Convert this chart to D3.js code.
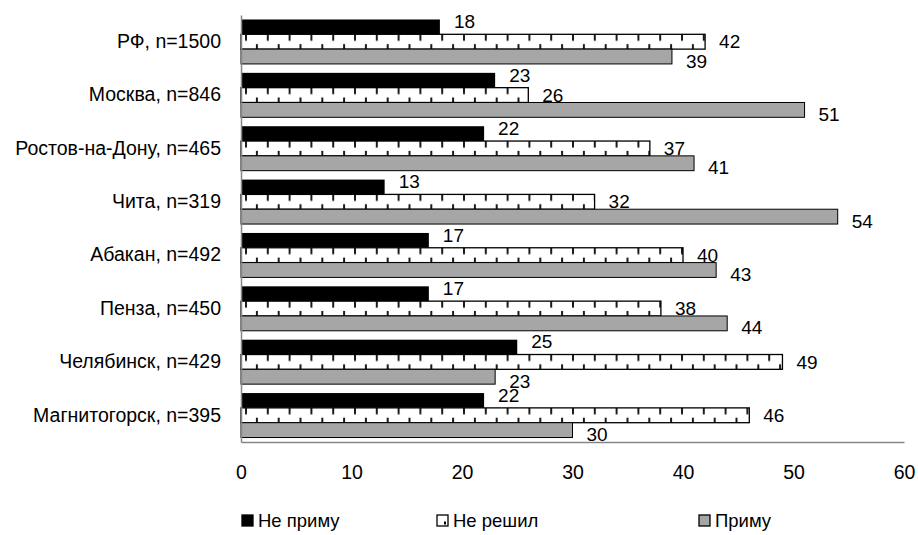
<!DOCTYPE html>
<html>
<head>
<meta charset="utf-8">
<script src="https://cdn.jsdelivr.net/npm/d3@7"></script>
<style>
  body { margin: 0; background: #fff; }
  svg { display: block; font-family: "Liberation Sans", Arial, sans-serif; }
</style>
</head>
<body>
<svg width="918" height="535"></svg>
<script>
// data
const cities = ["РФ, n=1500", "Москва, n=846", "Ростов-на-Дону, n=465", "Чита, n=319",
    "Абакан, n=492", "Пенза, n=450", "Челябинск, n=429", "Магнитогорск, n=395"];
const seriesNames = ["Не приму", "Не решил", "Приму"];
const notAccept = [18, 23, 22, 13, 17, 17, 25, 22];
const undecided = [42, 26, 37, 32, 40, 38, 49, 46];
const accept = [39, 51, 41, 54, 43, 44, 23, 30];
const xTicks = [0, 10, 20, 30, 40, 50, 60];

const series = [notAccept, undecided, accept];

const svg = d3.select('svg');
const catFont = 19.5;
const valFont = 19;
const legFont = 18.5;

var margin = { left: 241, right: 14, top: 15, bottom: 442 };

var xScale = d3.scaleLinear()
    .domain([0, 60])
    .range([margin.left, 904]);

var yScale = d3.scaleBand()
    .domain(cities)
    .range([margin.top, margin.bottom])
    .paddingInner(0.167)
    .paddingOuter(0.084);

var inner = d3.scaleBand()
    .domain(d3.range(3))
    .range([0, yScale.bandwidth()]);

// pattern for "Не решил": ticks hanging from the top, stubs rising from the bottom
var period = 21.8;
var bh = inner.bandwidth();
var defs = svg.append('defs');
var pat = defs.append('pattern')
    .attr('id', 'hatch')
    .attr('patternUnits', 'userSpaceOnUse')
    .attr('x', 245)
    .attr('y', yScale(cities[0]) + inner(1))
    .attr('width', period)
    .attr('height', yScale.step());
pat.append('rect').attr('width', period).attr('height', yScale.step()).attr('fill', '#fff');
pat.append('rect').attr('x', 0).attr('y', 0).attr('width', 2).attr('height', 6.5).attr('fill', '#1a1a1a');
pat.append('rect').attr('x', period / 2).attr('y', bh - 5).attr('width', 2).attr('height', 5).attr('fill', '#1a1a1a');

var fills = ['#000', 'url(#hatch)', '#a6a6a6'];
var strokes = ['none', '#000', '#000'];
var strokeW = [0, 1.3, 1];

// bars
series.forEach(function (vals, s) {
    svg.append('g')
        .selectAll('rect')
        .data(vals)
        .enter().append('rect')
        .attr('x', xScale(0))
        .attr('y', (d, i) => yScale(cities[i]) + inner(s))
        .attr('width', d => xScale(d) - xScale(0))
        .attr('height', bh)
        .attr('fill', fills[s])
        .attr('stroke', strokes[s])
        .attr('stroke-width', strokeW[s]);
});

// value labels: black above, hatched centred, gray below
var labelShift = [-bh / 2 + 2, 0, bh / 2 - 3];
series.forEach(function (vals, s) {
    svg.append('g')
        .selectAll('text')
        .data(vals)
        .enter().append('text')
        .attr('x', d => xScale(d) + 14)
        .attr('y', (d, i) => yScale(cities[i]) + inner(s) + bh / 2 + labelShift[s])
        .attr('dy', '0.35em')
        .attr('font-size', valFont)
        .attr('fill', '#000')
        .text(d => d);
});

// axes
var yAxis = d3.axisLeft(yScale).tickSize(0).tickPadding(20);
var gy = svg.append('g')
    .attr('transform', 'translate(' + [margin.left, 0] + ')')
    .call(yAxis);
gy.select('.domain').attr('stroke', '#868686').attr('stroke-width', 1.5);
gy.selectAll('text').attr('font-size', catFont).attr('fill', '#000').attr('font-family', null);

var xAxis = d3.axisBottom(xScale).tickValues(xTicks).tickSize(0).tickPadding(23);
var gx = svg.append('g')
    .attr('transform', 'translate(' + [0, margin.bottom] + ')')
    .call(xAxis);
gx.select('.domain').attr('stroke', '#868686').attr('stroke-width', 1.5);
gx.selectAll('text').attr('font-size', catFont).attr('fill', '#000').attr('font-family', null);

// legend
var legendX = [242, 437, 699];
var legend = svg.append('g');
seriesNames.forEach(function (name, s) {
    var g = legend.append('g').attr('transform', 'translate(' + [legendX[s], 515] + ')');
    g.append('rect')
        .attr('width', 11).attr('height', 11)
        .attr('fill', s === 1 ? '#fff' : fills[s])
        .attr('stroke', '#000').attr('stroke-width', 1.3);
    if (s === 1) {
        g.append('rect').attr('x', 7).attr('y', 6.5).attr('width', 2).attr('height', 3).attr('fill', '#000');
    }
    g.append('text')
        .attr('x', 16).attr('y', 6)
        .attr('dy', '0.35em')
        .attr('font-size', legFont)
        .text(name);
});
</script>
</body>
</html>
